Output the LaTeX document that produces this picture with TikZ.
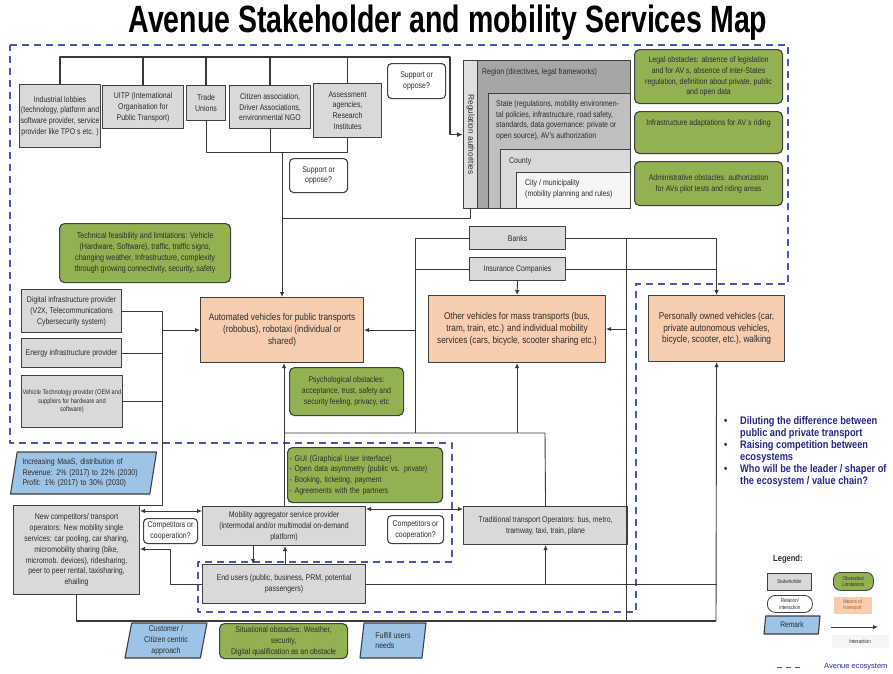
\documentclass[tikz,border=0pt]{standalone}
\usepackage{fontspec}
\setmainfont{Liberation Sans}[FakeStretch=0.84]
\newfontfamily\titlefont{Liberation Sans}[FakeStretch=0.75]
\newfontfamily\widefont{Liberation Sans}
\usepackage{tikz}
\usetikzlibrary{arrows.meta, shapes.geometric}
\definecolor{stakegray}{RGB}{217,217,217}
\definecolor{edgegray}{RGB}{64,64,64}
\definecolor{linegray}{RGB}{58,58,58}
\definecolor{obstgreen}{RGB}{146,178,82}
\definecolor{peach}{RGB}{248,205,175}
\definecolor{remarkblue}{RGB}{157,195,230}
\definecolor{ecoblue}{RGB}{72,88,178}
\definecolor{navy}{RGB}{38,38,140}
\definecolor{ink}{RGB}{45,45,45}
\newcommand{\boxfont}{\fontsize{8.3}{10.8}\selectfont}
\newcommand{\meansfont}{\fontsize{9.8}{11.7}\selectfont}
\newcommand{\smallfont}{\fontsize{6.8}{8.5}\selectfont}
\newcommand{\legfont}{\fontsize{5.5}{6.5}\selectfont}

\begin{document}
\begin{tikzpicture}[x=1pt, y=-1pt, line join=round,
  cell/.style={anchor=north west, align=center, inner sep=1pt, line width=1.1pt,
               draw=edgegray, font=\boxfont, text=ink},
  boxsize/.style 2 args={minimum width=#1pt, minimum height=#2pt},
  stake/.style={cell, fill=stakegray},
  obst/.style={cell, fill=obstgreen, rounded corners=5pt},
  means/.style={cell, fill=peach, font=\meansfont},
  relation/.style={cell, fill=white, rounded corners=4pt},
  tier/.style={cell, inner sep=0pt},
  remark/.style={trapezium, trapezium left angle=78, trapezium right angle=102,
               trapezium stretches body, draw=edgegray, fill=remarkblue, line width=1.1pt,
               align=center, inner sep=1pt, font=\boxfont, text=ink},
  plaintext/.style={anchor=north west, inner sep=0pt, font=\boxfont, text=ink, align=left},
  link/.style={draw=linegray, line width=0.9pt},
  busline/.style={link, line width=1.5pt},
  arrow/.style={link, -{Latex[length=5pt, width=4.5pt]}},
  twoway/.style={link, {Latex[length=5pt, width=4.5pt]}-{Latex[length=5pt, width=4.5pt]}},
  eco/.style={draw=ecoblue, line width=1.6pt, dash pattern=on 7pt off 5pt},
]
\useasboundingbox (0,0) rectangle (893,673);

\node[font=\titlefont\fontsize{38}{42}\selectfont\bfseries] (title) at (448,23)
  {Avenue Stakeholder and mobility Services Map};

% ecosystem outline
\draw[eco] (10,45) -- (788,45) -- (788,284) -- (636,284) -- (636,612) -- (198,612)
  -- (198,562) -- (452,562) -- (452,443) -- (10,443) -- cycle;

% stakeholders on top
\node[stake, boxsize={81}{63}] (lobby) at (19,84)
  {Industrial lobbies\\(technology, platform and\\software provider, service\\provider like TPO s etc. )};
\node[stake, boxsize={81}{43}] (uitp) at (102,85)
  {UITP (International\\Organisation for\\Public Transport)};
\node[stake, boxsize={39}{35}] (unions) at (186,85) {Trade\\Unions};
\node[stake, boxsize={81}{43}] (citizen) at (229,85)
  {Citizen association,\\Driver Associations,\\environmental NGO};
\node[stake, boxsize={68}{54}] (assess) at (313,83)
  {Assessment\\agencies,\\Research\\Institutes};
\node[relation, boxsize={58}{35}] (support1) at (387,63) {Support or\\oppose?};
\node[relation, boxsize={58}{34}] (support2) at (289,158) {Support or\\oppose?};

% regulation authorities
\node[tier, fill=gray!25, boxsize={14}{148}] (regauth) at (463,60) {};
\node[rotate=-90, font=\widefont\fontsize{8.3}{10}\selectfont, text=ink] (reglabel) at (regauth.center) {Regulation authorities};
\node[tier, fill=gray!70, boxsize={153}{148}] (region) at (477,60) {};
\node[plaintext] (regiontxt) at ([shift={(5,8)}]region.north west) {Region (directives, legal frameworks)};
\node[tier, fill=gray!50, boxsize={142}{115}] (state) at (488,93) {};
\node[plaintext] (statetxt) at ([shift={(8,7)}]state.north west)
  {State (regulations, mobility environmen-\\tal policies, infrastructure, road safety,\\standards, data governance: private or\\open source), AV's authorization};
\node[tier, fill=gray!30, boxsize={130}{59}] (county) at (500,149) {};
\node[plaintext] (countytxt) at ([shift={(9,8)}]county.north west) {County};
\node[tier, fill=gray!8, boxsize={114}{36}] (city) at (516,172) {};
\node[plaintext] (citytxt) at ([shift={(9,7)}]city.north west)
  {City / municipality\\(mobility planning and rules)};

% obstacles on the right
\node[obst, boxsize={148}{54}] (legal) at (634,49)
  {Legal obstacles: absence of legislation\\and for AV s, absence of inter-States\\regulation, definition about private, public\\and open data};
\node[obst, boxsize={148}{42}] (infra) at (634,111) {};
\node[plaintext, anchor=north] (infratxt) at ([yshift=-8pt]infra.north) {Infrastructure adaptations for AV s riding};
\node[obst, boxsize={148}{44}] (admin) at (634,161)
  {Administrative obstacles: authorization\\for AVs pilot tests and riding areas};

% middle band
\node[obst, boxsize={171}{59}, font=\fontsize{8.5}{11}\selectfont] (tech) at (59,223)
  {Technical feasibility and limitations: Vehicle\\(Hardware, Software), traffic, traffic signs,\\changing weather, Infrastructure, complexity\\through growing connectivity, security, safety};
\node[stake, boxsize={100}{43}] (digital) at (21,289)
  {Digital infrastructure provider\\(V2X, Telecommunications\\Cybersecurity system)};
\node[stake, boxsize={100}{29}] (energy) at (21,338) {Energy infrastructure provider};
\node[stake, boxsize={100}{52}, font=\smallfont] (vehtech) at (21,375)
  {Vehicle Technology provider (OEM and\\suppliers for hardware and\\software)};
\node[means, boxsize={163}{65}] (av) at (200,297)
  {Automated vehicles for public transports\\(robobus), robotaxi (individual or\\shared)};
\node[obst, boxsize={114}{48}] (psych) at (289,367)
  {Psychological obstacles:\\acceptance, trust, safety and\\security feeling, privacy, etc};
\node[stake, boxsize={96}{23}] (banks) at (469,226) {Banks};
\node[stake, boxsize={96}{23}] (insur) at (469,257) {Insurance Companies};
\node[means, boxsize={177}{67}] (other) at (428,295)
  {Other vehicles for mass transports (bus,\\tram, train, etc.) and individual mobility\\services (cars, bicycle, scooter sharing etc.)};
\node[means, boxsize={136}{66}] (priv) at (648,295)
  {Personally owned vehicles (car,\\private autonomous vehicles,\\bicycle, scooter, etc.), walking};

% lower band
\node[remark, boxsize={146}{42}, align=left, text width=122pt] (maas) at (83.5,473)
  {Increasing MaaS, distribution of\\Revenue: 2\% (2017) to 22\% (2030)\\Profit: 1\% (2017) to 30\% (2030)};
\node[obst, boxsize={155}{55}, align=left, text width=151pt] (gui) at (287,447)
  {- GUI (Graphical User Interface)\\- Open data asymmetry (public vs. private)\\- Booking, ticketing, payment\\- Agreements with the partners};
\node[stake, boxsize={126}{89}] (ncomp) at (13,505)
  {New competitors/ transport\\operators: New mobility single\\services: car pooling, car sharing,\\micromobility sharing (bike,\\micromob. devices), ridesharing,\\peer to peer rental, taxisharing,\\ehailing};
\node[relation, boxsize={54}{25}] (coop1) at (143,518) {Competitors or\\cooperation?};
\node[stake, boxsize={163}{39}] (mobil) at (202,506)
  {Mobility aggregator service provider\\(intermodal and/or multimodal on-demand\\platform)};
\node[relation, boxsize={56}{28}] (coop2) at (387,515) {Competitors or\\cooperation?};
\node[stake, boxsize={164}{38}] (trad) at (463,506)
  {Traditional transport Operators: bus, metro,\\tramway, taxi, train, plane};
\node[stake, boxsize={163}{39}] (endu) at (202,564)
  {End users (public, business, PRM, potential\\passengers)};

% bottom row
\node[remark, boxsize={82}{35}] (customer) at (166,640.5) {Customer /\\Citizen centric\\approach};
\node[obst, boxsize={128}{35}] (situ) at (219,623)
  {Situational obstacles: Weather,\\security,\\Digital qualification as an obstacle};
\node[remark, boxsize={66}{35}, align=left] (fulfill) at (393,640.5) {Fulfill users\\needs};

% open questions
\node[plaintext, font=\fontsize{11}{12}\selectfont\bfseries, text=navy] (questions) at (724,416)
  {\makebox[16pt][l]{\textbullet}Diluting the difference between\\
   \makebox[16pt][l]{}public and private transport\\
   \makebox[16pt][l]{\textbullet}Raising competition between\\
   \makebox[16pt][l]{}ecosystems\\
   \makebox[16pt][l]{\textbullet}Who will be the leader / shaper of\\
   \makebox[16pt][l]{}the ecosystem / value chain?};

% legend
\node[plaintext, anchor=west, font=\fontsize{9}{10}\selectfont\bfseries] (legtitle) at (773,559) {Legend:};
\node[stake, boxsize={44}{17}, font=\legfont, line width=0.8pt] (legstake) at (767,573) {Stakeholder};
\node[obst, boxsize={40}{18}, font=\legfont, line width=0.8pt, rounded corners=7pt] (legobst) at (833,572) {Obstacles/\\Limitations};
\node[relation, boxsize={45}{17}, font=\legfont, line width=0.8pt, rounded corners=8pt] (legrel) at (767,595) {Relation/\\interaction};
\node[means, boxsize={38}{17}, font=\legfont, draw=none, text=brown!80!black] (legmeans) at (833,596) {Means of\\transport};
\node[remark, boxsize={56}{18}, font=\fontsize{8}{9}\selectfont] (legremark) at (792,625) {Remark};
\coordinate (legA) at (831,627);
\coordinate (legB) at (878,627);
\draw[arrow] (legA) -- (legB);
\node[cell, draw=none, fill=gray!8, boxsize={57}{13}, font=\legfont] (leginter) at (831,634) {Interaction};
\coordinate (legC) at (777,667);
\coordinate (legD) at (802,667);
\draw[eco, line width=1pt, dash pattern=on 5pt off 4pt] (legC) -- (legD);
\node[plaintext, anchor=west, font=\widefont\fontsize{7.5}{9}\selectfont, text=navy] (legeco) at (824,667) {Avenue ecosystem};

% connectors: top stakeholders
\coordinate (topbus) at (450,57);
\draw[busline, -{Latex[length=6pt, width=5pt]}] (lobby.north) |- (topbus) |- (regauth.west);
\draw[busline] (uitp.north) -- (uitp.north |- topbus);
\draw[busline] (unions.north) -- (unions.north |- topbus);
\draw[busline] (citizen.north) -- (citizen.north |- topbus);
\draw[busline] (assess.north) -- (assess.north |- topbus);
\coordinate (lowbus) at (282,152);
\coordinate (regdrop) at (282,218);
\draw[link] (unions.south) |- (lowbus -| assess.south) -- (assess.south);
\draw[link] (citizen.south) -- (citizen.south |- lowbus);
\draw[arrow] (lowbus) -- (lowbus |- av.north);
\draw[link] (regauth.south) |- (regdrop);

% connectors: suppliers
\coordinate (leftbus) at (162,505);
\draw[link] (digital.east) -| (leftbus) -- (ncomp.north east);
\draw[link] (energy.east) -- (energy.east -| leftbus);
\draw[link] (vehtech.east) -- (vehtech.east -| leftbus);
\draw[arrow] (leftbus |- av.west) -- (av.west);

% connectors: finance
\coordinate (finbus) at (415,433);
\coordinate (rightbus) at (626,621);
\coordinate (botbus) at (716,621);
\draw[link] (banks.west) -| (finbus);
\draw[link] (insur.west) -- (insur.west -| finbus);
\draw[arrow] (finbus |- av.east) -- (av.east);
\draw[arrow] (insur.south) -- (other.north);
\draw[arrow] (banks.east) -| (priv.north);
\draw[link] (insur.east) -- (insur.east -| priv.north);
\draw[link] (banks.east -| rightbus) -- (rightbus);
\draw[arrow] (rightbus |- other.east) -- (other.east);

% connectors: operators and users
\coordinate (midbus) at (545,433);
\draw[arrow] (mobil.north) -- (mobil.north |- av.south);
\draw[link] (mobil.north |- midbus) -- (midbus) -- (trad.north);
\draw[arrow] (other.south |- midbus) -- (other.south);
\draw[twoway] ([yshift=-6pt]ncomp.north east) -- ([yshift=-6pt]ncomp.north east -| mobil.west);
\draw[twoway] ([yshift=-3pt]mobil.north east) -- ([yshift=-3pt]mobil.north east -| trad.west);
\coordinate (uturn) at (170,549);
\draw[arrow] (endu.west) -| (uturn) -- (uturn -| ncomp.east);
\draw[arrow] ([xshift=-31pt]mobil.south) -- ([xshift=-31pt]endu.north);
\draw[arrow] ([xshift=1pt]endu.north) -- ([xshift=1pt]mobil.south);
\draw[link] (endu.east) -- (endu.east -| priv.south);
\draw[arrow] (endu.east -| trad.south) -- (trad.south);
\draw[busline] (ncomp.south) |- (botbus);
\draw[arrow] (botbus) -- (priv.south);
\end{tikzpicture}
\end{document}
